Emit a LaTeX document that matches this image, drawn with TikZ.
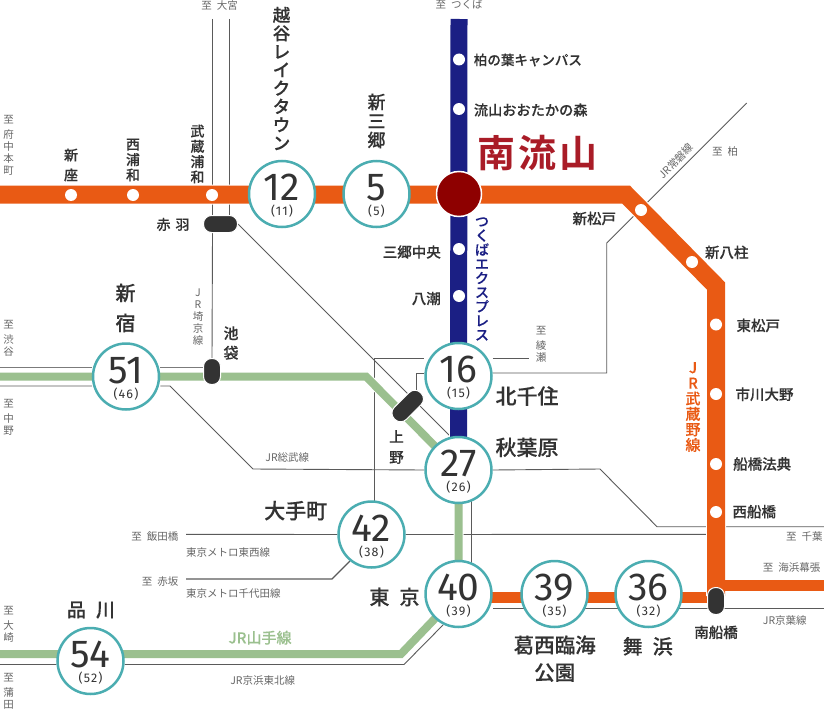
\documentclass[tikz,border=0pt]{standalone}
\usepackage{fontspec}
\setmainfont{Noto Sans CJK JP}
\newfontfamily\numfont{Fira Sans}
\newfontfamily\smallnum[LetterSpace=9]{Fira Sans}
\newfontfamily\medfont[FakeBold=0.15]{Noto Sans CJK JP Medium}
\newfontfamily\titlefont{Noto Sans CJK JP Bold}
\usetikzlibrary{backgrounds}
\newcommand{\fs}[2]{\fontsize{#1}{#2}\selectfont}
\newcommand{\sub}[1]{{\smallnum\fs{12.5}{12.5}(#1)}}
\definecolor{orangeline}{HTML}{E95A14}
\definecolor{blueline}{HTML}{1B1F84}
\definecolor{greenline}{HTML}{9BC08F}
\definecolor{tealring}{HTML}{4BADB1}
\definecolor{darkcap}{HTML}{333333}
\definecolor{thingray}{HTML}{5A5A5A}
\definecolor{mainred}{HTML}{8E0000}
\definecolor{titlered}{HTML}{A91C27}
\definecolor{notegray}{HTML}{666666}

\begin{document}
\begin{tikzpicture}[
  x=1pt, y=-1pt,
  stn/.style={circle, draw=tealring, line width=2.5pt, fill=white, minimum size=66pt, inner sep=0pt, align=center, text=darkcap, font=\numfont\fs{39}{18}},
  dot/.style={circle, fill=white, minimum size=12pt, inner sep=0pt},
  capsule/.style={draw=white, line width=1pt, fill=darkcap, rounded corners=8pt, minimum width=34pt, minimum height=17pt, inner sep=0pt},
  lbl/.style={inner sep=0pt, text=darkcap, align=center, font=\medfont\fs{14.5}{16}},
  note/.style={inner sep=0pt, text=notegray, align=center, font=\fs{10.5}{12}},
  thin line/.style={draw=thingray, line width=0.9pt},
  rail/.style={line width=#1, preaction={draw=white, line width=#1+2pt}},
]
\useasboundingbox (0,0) rectangle (824,709);

% stations
\node [stn] (s12) at (282,194) {\rule{0pt}{30pt}12\\[-3pt]\sub{11}};
\node [stn] (s5) at (376.5,194) {\rule{0pt}{30pt}5\\[-3pt]\sub{5}};
\node [stn] (s51) at (126,376.5) {\rule{0pt}{30pt}51\\[-3pt]\sub{46}};
\node [stn] (s16) at (458.5,376) {\rule{0pt}{30pt}16\\[-3pt]\sub{15}};
\node [stn] (s27) at (458.5,470) {\rule{0pt}{30pt}27\\[-3pt]\sub{26}};
\node [stn] (s42) at (371.5,534.5) {\rule{0pt}{30pt}42\\[-3pt]\sub{38}};
\node [stn] (s40) at (458.5,594) {\rule{0pt}{30pt}40\\[-3pt]\sub{39}};
\node [stn] (s39) at (554.5,594) {\rule{0pt}{30pt}39\\[-3pt]\sub{35}};
\node [stn] (s36) at (648.5,594) {\rule{0pt}{30pt}36\\[-3pt]\sub{32}};
\node [stn] (s54) at (90.5,661) {\rule{0pt}{30pt}54\\[-3pt]\sub{52}};
\node [circle, draw=white, line width=1.5pt, fill=mainred, minimum size=45pt, inner sep=0pt] (sMain) at (459,194) {};

\node [dot] (dShinza) at (71,195) {};
\node [dot] (dNishiurawa) at (133,195) {};
\node [dot] (dMusashiurawa) at (212,195) {};
\node [dot] (dKashiwanoha) at (459,59.5) {};
\node [dot] (dOtaka) at (459,109) {};
\node [dot] (dMisato) at (459,249) {};
\node [dot] (dYashio) at (459,296) {};
\node [dot] (dShinmatsudo) at (641,210) {};
\node [dot] (dShinyahashira) at (692,262) {};
\node [dot] (dHigashimatsudo) at (716,324.5) {};
\node [dot] (dIchikawa) at (716,394) {};
\node [dot] (dFunabashihoten) at (716,464) {};
\node [dot] (dNishifunabashi) at (716,512) {};

\node [capsule] (cAkabane) at (220.5,224) {};
\node [capsule, rotate=90, minimum width=26pt] (cIkebukuro) at (212,371.5) {};
\node [capsule, rotate=45, minimum width=37pt] (cUeno) at (407.7,406) {};
\node [capsule, rotate=90, minimum width=27pt] (cMinamifunabashi) at (716,601) {};

% free ends and bends
\coordinate (oL) at (0,194.5);
\coordinate (oA) at (626,194.5);
\coordinate (oB) at (716,286);
\coordinate (oC) at (716,596);
\coordinate (oD) at (716,585.5);
\coordinate (oE) at (824,585.5);
\coordinate (oF) at (480,597.5);
\coordinate (oG) at (716,597.5);
\coordinate (bTop) at (459,19);
\coordinate (gL) at (0,376.5);
\coordinate (gA) at (366,376.5);
\coordinate (gB) at (401,654);
\coordinate (gC) at (0,654);
\coordinate (tA) at (212.5,19);
\coordinate (tB) at (229.5,19);
\coordinate (tC) at (212.5,216);
\coordinate (tD) at (229.5,216);
\coordinate (tE) at (374,358.7);
\coordinate (tF) at (374,501);
\coordinate (tG) at (529,358.7);
\coordinate (tH) at (606.7,373);
\coordinate (tI) at (606.7,243);
\coordinate (tJ) at (746.7,103);
\coordinate (tK) at (416,373);
\coordinate (tL) at (416,396);
\coordinate (tM) at (0,367);
\coordinate (tN) at (0,386);
\coordinate (tO) at (170,386);
\coordinate (tP) at (253,469);
\coordinate (tQ) at (600,469);
\coordinate (tR) at (657,526.7);
\coordinate (tS) at (824,526.7);
\coordinate (tT) at (186,534.3);
\coordinate (tU) at (708,534.3);
\coordinate (tV) at (186,579);
\coordinate (tW) at (332,579);
\coordinate (tX) at (350,561);
\coordinate (tY) at (824,608);
\coordinate (tZ) at (0,664.5);
\coordinate (uA) at (404,664.5);
\coordinate (uB) at (443,625);
\coordinate (uC) at (450,436);
\coordinate (uD) at (471.4,500);
\coordinate (uE) at (471.4,565);
\coordinate (uF) at (493,608);

\begin{scope}[on background layer]
% thin lines
\draw [thin line] (tA) -- (tC);
\draw [thin line] (tB) -- (tD);
\draw [thin line] (cAkabane.south -| tA) -- (cIkebukuro.east);
\draw [thin line] (cAkabane.east) -- (uC);
\draw [thin line] (tF) -- (tE) -- (s16.west |- tE);
\draw [thin line] (s16.east |- tE) -- (tG);
\draw [thin line] (s16.east |- tH) -- (tH) -- (tI) -- (tJ);
\draw [thin line] (s16.west |- tK) -- (tK) -- (tL);
\draw [draw=thingray, line width=1pt, draw opacity=0.8] (tM) -- (s51.west |- tM) (s51.east |- tM) -- (cIkebukuro.north |- tM);
\draw [thin line] (tN) -- (s51.west |- tN) (s51.east |- tN) -- (tO) -- (tP) -- (s27.west);
\draw [thin line] (s27.east) -- (tQ) -- (tR) -- (tS);
\draw [thin line] (tT) -- (s42.west) (s42.east) -- (tU);
\draw [thin line, line width=1.2pt] (tV) -- (tW) -- (tX);
\draw [thin line] (uD) -- (uE);
\draw [thin line] (uF) -- (tY);
\draw [thin line] (tZ) -- (s54.west |- tZ) (s54.east |- tZ) -- (uA) -- (uB);
% rails
\draw [rail=8pt, draw=greenline] (gL) -- (gA) -- (s27.center) -- (s40.center) -- (gB) -- (gC);
\draw [rail=17pt, draw=blueline] (bTop) -- (s27.center);
\draw [rail=11pt, draw=orangeline] (oF) -- (oG);
\draw [rail=11pt, draw=orangeline] (oD) -- (oE);
\draw [rail=18pt, draw=orangeline, line join=miter] (oL) -- (oA) -- (oB) -- (oC);
\draw [line width=11pt, draw=orangeline] (oD) -- (oE);
\end{scope}

% line names and destinations
\node [note] (nOmiya) at (219.7,5) {至\hspace{5pt}大宮};
\node [note] (nFuchu) at (8.5,145.5) {至\\[3pt]府\\中\\本\\町};
\node [note] (nShibuya) at (8.5,338) {至\\[3pt]渋\\谷};
\node [note] (nNakano) at (8.5,417) {至\\[3pt]中\\野};
\node [note] (nOsaki) at (8.5,624) {至\\[3pt]大\\崎};
\node [note] (nKamata) at (8.5,691) {至\\[3pt]蒲\\田};
\node [note] (nTsukuba) at (459,5) {至\hspace{5pt}つくば};
\node [note] (nKashiwa) at (725,152) {至\hspace{5pt}柏};
\node [note] (nAyase) at (541,344) {至\\[3pt]綾\\瀬};
\node [note, rotate=45] (nJoban) at (676,161) {JR常磐線};
\node [note] (nSaikyo) at (198,317) {J\\R\\埼\\京\\線};
\node [note] (nSobu) at (287.3,458) {JR総武線};
\node [note, anchor=east] (nIidabashi) at (178.5,537) {至\hspace{5pt}飯田橋};
\node [note, anchor=west] (nTozai) at (186,552) {東京メトロ東西線};
\node [note, anchor=east] (nAkasaka) at (178.5,582) {至\hspace{5pt}赤坂};
\node [note, anchor=west] (nChiyoda) at (186,594) {東京メトロ千代田線};
\node [note] (nKeihin) at (262.7,680.7) {JR京浜東北線};
\node [note, anchor=west] (nChiba) at (786,536.7) {至\hspace{5pt}千葉};
\node [note, anchor=west] (nMakuhari) at (762.7,568) {至\hspace{5pt}海浜幕張};
\node [note, anchor=west] (nKeiyo) at (762.7,620.7) {JR京葉線};
\node [lbl, text=greenline, font=\medfont\fs{15}{16}] (nYamanote) at (260,637.7) {JR山手線};
\node [lbl, text=blueline, font=\medfont\fs{14}{14.2}] (nTX) at (482,279) {つ\\く\\ば\\エ\\ク\\ス\\プ\\レ\\ス};
\node [lbl, text=orangeline, font=\medfont\fs{15}{15.5}] (nMusashino) at (693,407) {J\\R\\武\\蔵\\野\\線};

% station names
\node [lbl, font=\medfont\fs{14}{20}] (lShinza) at (71,165) {新\\座};
\node [lbl, font=\medfont\fs{14}{15.3}] (lNishiurawa) at (133,160) {西\\浦\\和};
\node [lbl, font=\medfont\fs{14}{15.3}] (lMusashiurawa) at (197.5,154) {武\\蔵\\浦\\和};
\node [lbl, font=\medfont\fs{14}{16}] (lAkabane) at (173,224.5) {赤\hspace{5pt}羽};
\node [lbl, font=\medfont\fs{17.5}{18.3}] (lKoshigaya) at (281.5,78.5) {越\\谷\\レ\\イ\\ク\\タ\\ウ\\ン};
\node [lbl, font=\medfont\fs{18}{19}] (lMisato) at (376.5,121) {新\\三\\郷};
\node [lbl, anchor=west, font=\medfont\fs{13.5}{16}] (lKashiwanoha) at (473.7,60) {柏の葉キャンパス};
\node [lbl, anchor=west, font=\medfont\fs{14.2}{16}] (lOtaka) at (473.7,110) {流山おおたかの森};
\node [lbl, anchor=west, text=titlered, font=\titlefont\fs{38}{40}] (lMain) at (477,153) {南\hspace{3pt}流\hspace{3pt}山};
\node [lbl] (lShinmatsudo) at (594.3,218.5) {新松戸};
\node [lbl] (lShinyahashira) at (726.7,252.3) {新八柱};
\node [lbl, anchor=east] (lMisatochuo) at (441,252) {三郷中央};
\node [lbl, anchor=east] (lYashio) at (441,298.5) {八潮};
\node [lbl, anchor=west] (lHigashimatsudo) at (736.3,325.5) {東松戸};
\node [lbl, font=\medfont\fs{20}{30}] (lShinjuku) at (125.5,308) {新\\宿};
\node [lbl, font=\medfont\fs{15}{19.5}] (lIkebukuro) at (231,343) {池\\袋};
\node [lbl, anchor=west, font=\medfont\fs{21}{22}] (lKitasenju) at (495.3,396) {北千住};
\node [lbl, anchor=west, font=\medfont\fs{21}{22}] (lAkihabara) at (495.3,447.3) {秋葉原};
\node [lbl, font=\medfont\fs{14.5}{20.5}] (lUeno) at (396.5,447) {上\\野};
\node [lbl, font=\medfont\fs{21}{22}] (lOtemachi) at (295.7,510.7) {大手町};
\node [lbl, font=\medfont\fs{20}{22}] (lTokyo) at (394.5,597) {東\hspace{10pt}京};
\node [lbl, font=\medfont\fs{19}{22}] (lShinagawa) at (91,610) {品\hspace{10pt}川};
\node [lbl, font=\medfont\fs{20.5}{27.3}] (lKasai) at (554.7,658.7) {葛西臨海\\公園};
\node [lbl, font=\medfont\fs{20}{22}] (lMaihama) at (647.7,646.3) {舞\hspace{10pt}浜};
\node [lbl] (lMinamifunabashi) at (716,632.3) {南船橋};
\node [lbl, anchor=west] (lIchikawa) at (735.3,394.3) {市川大野};
\node [lbl, anchor=west] (lFunabashihoten) at (733,464) {船橋法典};
\node [lbl, anchor=west] (lNishifunabashi) at (732.3,511.7) {西船橋};

\end{tikzpicture}
\end{document}
